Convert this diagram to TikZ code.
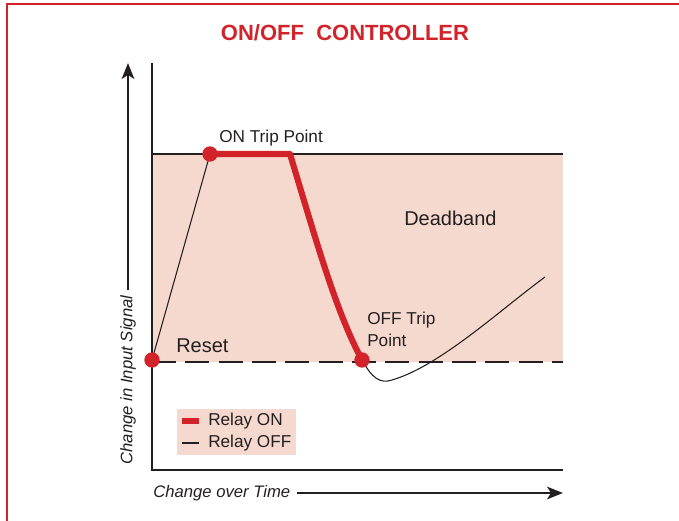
\documentclass[tikz,border=0pt]{standalone}
\usepackage{fontspec}
\setmainfont{Liberation Sans}
\usetikzlibrary{arrows.meta}
\definecolor{ored}{HTML}{D2232A}
\definecolor{opink}{HTML}{F6D9CE}
\definecolor{oink}{HTML}{231F20}
\tikzset{
  axisline/.style={draw=oink, line width=1.1pt},
  thinline/.style={draw=oink, line width=0.8pt},
  onpath/.style={draw=ored, line width=4.6pt, line join=round},
  dot/.style={circle, fill=ored, inner sep=0pt, minimum size=11.5pt},
  lbl/.style={text=oink, inner sep=0pt, font=\fontsize{12.9pt}{15pt}\selectfont},
  biglbl/.style={text=oink, inner sep=0pt, font=\fontsize{15pt}{17pt}\selectfont},
  arrowtip/.style={-{Stealth[length=12pt,width=9.5pt,inset=3pt]}},
}
\begin{document}
\begin{tikzpicture}[x=0.75pt,y=-0.75pt]
\useasboundingbox (0,0) rectangle (679,521);
% frame
\draw[ored, line width=2.2pt] (7,521) -- (7,4) -- (679,4);
% title
\node[text=ored, font=\fontsize{16.5pt}{19pt}\selectfont\bfseries, inner sep=0pt] (title) at (345,33) {ON/OFF\ \ CONTROLLER};
% deadband
\fill[opink] (152,154) rectangle (563,362);
\draw[axisline] (152,154) -- (563,154);
\draw[axisline, dash pattern=on 18pt off 7pt, line width=1pt] (152,362) -- (563,362);
% axes
\coordinate (ytop) at (152,63);
\coordinate (origin) at (152,470);
\coordinate (xend) at (563,470);
\draw[axisline] (ytop) -- (origin) -- (xend);
% y axis label & arrow
\node[rotate=90, font=\itshape\fontsize{12.5pt}{15pt}\selectfont, text=oink, inner sep=0pt] (ylab) at (128,380) {Change in Input Signal};
\coordinate (ytip) at (128,63);
\draw[axisline, arrowtip] ([yshift=4pt]ylab.east) -- (ytip);
% x axis label & arrow
\node[font=\itshape\fontsize{12.5pt}{15pt}\selectfont, text=oink, inner sep=0pt, anchor=west] (xlab) at (153,493) {Change over Time};
\coordinate (xtip) at (563,493);
\draw[axisline, arrowtip] ([xshift=5pt]xlab.east) -- (xtip);
% points
\coordinate (reset) at (152,360);
\coordinate (ontrip) at (210,154);
\coordinate (corner) at (290,154);
\coordinate (offtrip) at (362,360);
\coordinate (low) at (392,380);
\coordinate (endp) at (545,277);
% curves
\draw[thinline] (reset) -- (ontrip);
\draw[onpath] (ontrip) -- (corner) .. controls (316,240) and (336,312) .. (offtrip);
\draw[thinline] (offtrip) .. controls (372,378) and (380,384) .. (low) .. controls (440,366) and (500,310) .. (endp);
\node[dot] (resetdot) at (reset) {};
\node[dot] (ondot) at (ontrip) {};
\node[dot] (offdot) at (offtrip) {};
% labels
\node[lbl, anchor=west] (onl) at (219,138) {ON Trip Point};
\node[biglbl, anchor=west] (db) at (404,218) {Deadband};
\node[lbl, anchor=west, align=left, font=\fontsize{12.9pt}{16.5pt}\selectfont] (offl) at (367,329) {OFF Trip\\Point};
\node[biglbl, anchor=west] (rs) at (176,346) {Reset};
% legend
\fill[opink] (177,409) rectangle (296,455);
\coordinate (swa) at (182,421);
\coordinate (swb) at (199,421);
\draw[ored, line width=5pt] (swa) -- (swb);
\coordinate (lna) at (182,443);
\coordinate (lnb) at (199,443);
\draw[thinline] (lna) -- (lnb);
\node[lbl, anchor=west] (lon) at (208,421) {Relay ON};
\node[lbl, anchor=west] (loff) at (208,443) {Relay OFF};
\end{tikzpicture}
\end{document}
